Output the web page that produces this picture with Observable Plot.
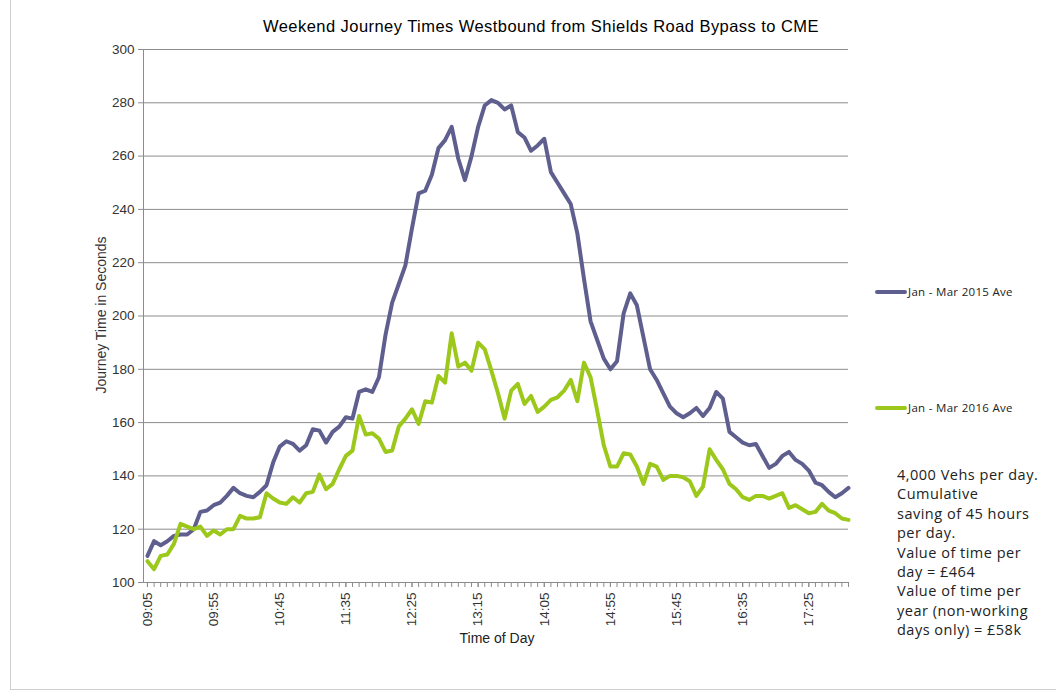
<!DOCTYPE html>
<html><head><meta charset="utf-8">
<script src="https://cdn.jsdelivr.net/npm/d3@7"></script>
<script src="https://cdn.jsdelivr.net/npm/@observablehq/plot@0.6"></script>
<style>
body{margin:0;background:#fff;}
#wrap{position:relative;width:1056px;height:697px;overflow:hidden;font-family:"Liberation Sans",Arial,sans-serif;color:#000;}
#chart{position:absolute;left:0;top:0;}
.t{position:absolute;white-space:nowrap;}
.sw{position:absolute;height:4px;border-radius:2px;}
.leg{position:absolute;white-space:nowrap;font-family:"Open Sans",sans-serif;font-size:11.5px;letter-spacing:0.3px;color:#222;line-height:14px;}
#note{position:absolute;left:897px;top:465px;font-family:"Open Sans",sans-serif;font-size:14.5px;letter-spacing:0.5px;line-height:19.4px;color:#222;white-space:nowrap;}
</style></head><body>
<div id="wrap">
  <div style="position:absolute;left:10px;top:-2px;width:1100px;height:691px;border-left:1px solid #cfcfcf;border-bottom:1px solid #cfcfcf;"></div>
  <div id="chart"></div>
  <div class="t" id="title" style="left:541px;top:17px;transform:translateX(-50%);font-size:16.5px;letter-spacing:0.45px;">Weekend Journey Times Westbound from Shields Road Bypass to CME</div>
  <div class="t" id="ylab" style="left:101px;top:315px;transform:translate(-50%,-50%) rotate(-90deg);font-size:14px;color:#333;">Journey Time in Seconds</div>
  <div class="t" id="xlab" style="left:497px;top:638px;transform:translate(-50%,-50%);font-size:14px;color:#222;">Time of Day</div>
  <div class="sw" style="left:875px;top:290px;width:32px;background:#5f5f8f;"></div>
  <div class="leg" style="left:908px;top:285px;">Jan - Mar 2015 Ave</div>
  <div class="sw" style="left:875px;top:406px;width:32px;background:#9bc81a;"></div>
  <div class="leg" style="left:908px;top:401px;">Jan - Mar 2016 Ave</div>
  <div id="note">4,000 Vehs per day.<br>Cumulative<br>saving of 45 hours<br>per day.<br>Value of time per<br>day = £464<br>Value of time per<br>year (non-working<br>days only) = £58k</div>
</div>
<script>
const times = [
"09:05","09:10","09:15","09:20","09:25","09:30","09:35","09:40","09:45","09:50",
"09:55","10:00","10:05","10:10","10:15","10:20","10:25","10:30","10:35","10:40",
"10:45","10:50","10:55","11:00","11:05","11:10","11:15","11:20","11:25","11:30",
"11:35","11:40","11:45","11:50","11:55","12:00","12:05","12:10","12:15","12:20",
"12:25","12:30","12:35","12:40","12:45","12:50","12:55","13:00","13:05","13:10",
"13:15","13:20","13:25","13:30","13:35","13:40","13:45","13:50","13:55","14:00",
"14:05","14:10","14:15","14:20","14:25","14:30","14:35","14:40","14:45","14:50",
"14:55","15:00","15:05","15:10","15:15","15:20","15:25","15:30","15:35","15:40",
"15:45","15:50","15:55","16:00","16:05","16:10","16:15","16:20","16:25","16:30",
"16:35","16:40","16:45","16:50","16:55","17:00","17:05","17:10","17:15","17:20",
"17:25","17:30","17:35","17:40","17:45","17:50","17:55"];

const ave2015 = [
110,115.5,114,115.5,117.5,118,118,120,126.5,127,
129,130,132.5,135.5,133.5,132.5,132,134,136.5,145,
151,153,152,149.5,151.5,157.5,157,152.5,156.5,158.5,
162,161.5,171.5,172.5,171.5,177,193,205,212,219,
233,246,247,253,263,266,271,259,251,260,
271,279,281,280,277.5,279,269,267,262,264,
266.5,254,250,246,242,231,214,198,191,184,
180,183,201,208.5,204,192,180,176,171,166,
163.5,162,163.5,165.5,162.5,165.5,171.5,169,156.5,154.5,
152.5,151.5,152,147.5,143,144.5,147.5,149,146,144.5,
142,137.5,136.5,134,132,133.5,135.5];

const ave2016 = [
108,105,110,110.5,114.5,122,121,120,121,117.5,
119.5,118,120,120,125,124,124,124.5,133.5,131.5,
130,129.5,132,130,133.5,134,140.5,135,137,142.5,
147.5,149.5,162.5,155.5,156,154,149,149.5,158.5,161.5,
165,159.5,168,167.5,177.5,175,193.5,181,182.5,179.5,
190,187.5,179.5,171,161.5,172,174.5,167,170,164,
166,168.5,169.5,172,176,168,182.5,177,164.5,151.5,
143.5,143.5,148.5,148,143.5,137,144.5,143.5,138.5,140,
140,139.5,138,132.5,136,150,146,142.5,137,135,
132,131,132.5,132.5,131.5,132.5,133.5,128,129,127.5,
126,126.5,129.5,127,126,124,123.5];

const tickLabels = ["09:05","09:55","10:45","11:35","12:25","13:15","14:05","14:55","15:45","16:35","17:25"];
const yTicks = [100,120,140,160,180,200,220,240,260,280,300];
const seriesNames = ["Jan - Mar 2015 Ave","Jan - Mar 2016 Ave"];
const colors = ["#5f5f8f","#9bc81a"];

const toMin = s => (+s.slice(0,2))*60 + (+s.slice(3));
const rows2015 = times.map((t,i)=>({t:toMin(t), v:ave2015[i]}));
const rows2016 = times.map((t,i)=>({t:toMin(t), v:ave2016[i]}));
const xMin = toMin(times[0]) - 3;
const gridColor = "#8c8c8c";

const chart = Plot.plot({
  width:1056, height:697,
  marginLeft:143, marginRight:208, marginTop:49, marginBottom:115,
  style:{fontFamily:"'Liberation Sans', Arial, sans-serif", fontSize:"13px", background:"transparent", color:"#333"},
  x:{type:"linear", domain:[xMin, toMin(times[times.length-1])]},
  y:{domain:[100,300]},
  marks:[
    Plot.ruleY(yTicks.filter(d=>d>100), {stroke:gridColor, strokeWidth:1}),
    Plot.ruleX([xMin], {stroke:gridColor, strokeWidth:1}),
    Plot.ruleY([100], {stroke:gridColor, strokeWidth:1}),
    Plot.axisY({ticks:yTicks, tickSize:5, tickPadding:4, label:null, stroke:gridColor, fill:"#333", fontSize:13.5}),
    Plot.axisX({ticks:times.map(toMin), tickFormat:()=>"", tickSize:5, label:null, stroke:gridColor}),
    Plot.axisX({ticks:tickLabels.map(toMin), tickFormat:m=>tickLabels.find(l=>toMin(l)===m), tickRotate:-90, tickSize:5, tickPadding:5, label:null, stroke:gridColor, fill:"#333", fontSize:13.5}),
    Plot.line(rows2015, {x:"t", y:"v", stroke:colors[0], strokeWidth:4, strokeLinejoin:"round", strokeLinecap:"round"}),
    Plot.line(rows2016, {x:"t", y:"v", stroke:colors[1], strokeWidth:4, strokeLinejoin:"round", strokeLinecap:"round"})
  ]
});
document.getElementById("chart").appendChild(chart);
</script>
</body></html>
